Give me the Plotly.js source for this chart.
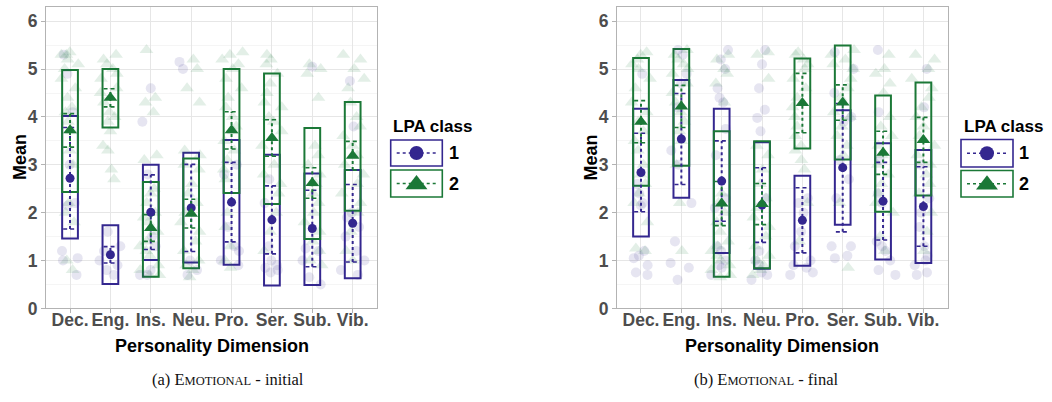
<!DOCTYPE html>
<html><head><meta charset="utf-8">
<script src="https://cdn.plot.ly/plotly-3.0.1.min.js"></script>
<style>html,body{margin:0;padding:0;background:#fff}#chart{width:1052px;height:402px}</style>
</head><body><div id="chart"></div><script>
// ---------- data ----------
const categories = ['Dec.','Eng.','Ins.','Neu.','Pro.','Ser.','Sub.','Vib.'];
const classNames = ['1','2'];
const xTitle = 'Personality Dimension';
const yTitle = 'Mean';
const legendTitle = 'LPA class';
const panelCaptions = ['(a) E<span style="font-size:12.5px">MOTIONAL</span> - initial',
                       '(b) E<span style="font-size:12.5px">MOTIONAL</span> - final'];

// (a) initial  – class 1
const initBoxLow1  = [1.46, 0.51, 1.01, 0.96, 0.91, 0.48, 0.49, 0.63];
const initBoxHigh1 = [4.02, 1.74, 3.00, 3.25, 3.52, 3.21, 2.82, 2.89];
const initMean1    = [2.72, 1.12, 2.01, 2.10, 2.22, 1.85, 1.67, 1.78];
const initErr1     = [1.06, 0.17, 0.78, 0.91, 0.83, 0.71, 0.80, 0.81];
// (a) initial  – class 2
const initBoxLow2  = [2.43, 3.78, 0.66, 0.84, 2.41, 2.18, 1.45, 2.04];
const initBoxHigh2 = [4.98, 5.00, 2.64, 3.13, 5.00, 4.91, 3.77, 4.31];
const initMean2    = [3.72, 4.40, 1.68, 1.98, 3.72, 3.56, 2.62, 3.19];
const initErr2     = [0.35, 0.19, 0.28, 0.30, 0.39, 0.38, 0.32, 0.30];
// (b) final – class 1
const finBoxLow1   = [1.50, 2.31, 1.16, 0.83, 0.89, 1.75, 1.02, 0.95];
const finBoxHigh1  = [4.17, 4.77, 4.17, 3.47, 2.77, 4.14, 3.45, 3.31];
const finMean1     = [2.84, 3.54, 2.66, 2.16, 1.84, 2.94, 2.24, 2.13];
const finErr1      = [0.82, 0.95, 0.84, 0.78, 0.68, 1.34, 0.81, 0.83];
// (b) final – class 2
const finBoxLow2   = [2.56, 2.98, 0.66, 0.84, 3.34, 3.11, 2.02, 2.36];
const finBoxHigh2  = [5.23, 5.42, 3.70, 3.49, 5.22, 5.49, 4.45, 4.72];
const finMean2     = [3.90, 4.22, 2.19, 2.18, 4.29, 4.30, 3.25, 3.52];
const finErr2      = [0.44, 0.44, 0.46, 0.43, 0.62, 0.37, 0.45, 0.47];

// individual observations (one list per category)
const initPoints1 = [
  [5.3, 4.9, 4.1, 3.0, 2.2, 2.15, 1.2, 1.05, 1.0, 0.7],
  [1.6, 1.3, 1.2, 1.0, 0.9, 0.8, 0.7],
  [4.6, 3.9, 2.8, 1.5, 1.3, 0.8, 0.7, 0.7],
  [5.15, 5.0, 1.0, 0.8, 0.7],
  [3.0, 2.8, 1.7, 1.3, 1.2, 1.0, 0.9],
  [2.7, 2.2, 1.3, 1.0, 0.9, 0.85, 0.8, 0.75],
  [5.05, 1.25, 1.2, 1.0, 0.65, 0.5],
  [4.75, 3.8, 2.0, 1.9, 1.7, 1.5, 1.2, 1.0, 0.8, 0.7]
];
const initPoints2 = [
  [5.35, 5.3, 5.3, 5.2, 5.1, 5.0, 4.8, 4.6, 4.4, 4.2, 4.1, 3.9, 3.7, 3.3, 3.0, 2.2, 2.0, 1.8, 1.0, 0.8],
  [5.3, 5.2, 5.1, 5.0, 4.9, 4.8, 4.6, 4.5, 4.3, 4.1, 4.0, 3.9, 3.7, 3.4, 3.3, 2.9, 2.7],
  [5.4, 4.4, 4.3, 4.1, 3.2, 3.1, 2.5, 2.4, 2.2, 2.0, 1.9, 1.8, 1.6, 1.4, 1.3, 1.2, 1.1, 0.9, 0.8, 0.7, 0.7],
  [5.2, 5.0, 4.6, 4.3, 3.3, 3.2, 3.0, 2.9, 2.6, 2.4, 2.2, 2.0, 1.8, 1.6, 1.4, 1.2, 1.0, 0.9, 0.8, 0.65],
  [5.35, 5.3, 5.2, 5.1, 5.0, 4.8, 4.6, 4.4, 4.2, 4.0, 3.8, 3.7, 3.5, 3.3, 3.1, 2.9, 2.7, 2.0, 1.7, 1.3, 1.0, 0.85],
  [5.3, 5.2, 5.1, 4.9, 4.7, 4.5, 4.3, 4.2, 4.0, 3.9, 3.7, 3.4, 3.0, 2.8, 2.6, 2.4, 2.0, 1.6, 1.2],
  [5.1, 5.0, 4.9, 4.4, 3.4, 3.2, 3.0, 2.8, 2.6, 2.4, 2.2, 2.0, 1.8, 1.6, 1.4, 1.2, 1.0, 0.9],
  [5.3, 5.2, 5.0, 4.8, 4.6, 4.3, 4.0, 3.8, 3.6, 3.4, 3.2, 3.0, 2.8, 2.6, 2.4, 2.2, 2.0, 1.6, 1.2, 1.0]
];
const finPoints1 = [
  [4.9, 2.6, 2.4, 2.2, 2.15, 1.2, 1.1, 1.05, 0.9, 0.75, 0.7],
  [5.4, 5.3, 4.9, 4.7, 4.2, 3.3, 3.0, 2.2, 1.4, 0.95, 0.85, 0.6],
  [5.4, 5.2, 5.0, 4.6, 4.4, 4.3, 3.75, 3.2, 2.3, 2.1, 1.3, 1.2, 1.0, 0.9, 0.85, 0.7],
  [5.4, 5.1, 4.6, 4.15, 3.98, 3.7, 2.3, 1.2, 1.0, 0.9, 0.75, 0.7, 0.6],
  [2.3, 2.2, 2.0, 1.6, 1.3, 1.0, 0.9, 0.85, 0.75, 0.7],
  [5.35, 5.0, 4.5, 4.0, 3.9, 3.1, 2.7, 2.3, 1.3, 1.3, 1.1, 1.05],
  [5.4, 4.1, 3.1, 2.4, 2.2, 1.4, 1.3, 1.2, 1.0, 0.8, 0.7],
  [5.0, 4.2, 3.0, 2.3, 2.0, 1.7, 1.3, 1.1, 1.0, 0.9, 0.75, 0.7]
];
const finPoints2 = [
  [5.35, 5.3, 5.2, 5.1, 5.0, 4.8, 4.6, 4.3, 4.1, 3.9, 3.7, 3.5, 3.3, 3.0, 2.8, 2.6, 2.4, 2.2, 1.8, 1.25, 1.2],
  [5.4, 5.3, 5.2, 5.1, 5.0, 4.9, 4.7, 4.5, 4.3, 4.1, 3.9, 3.7, 3.5, 3.0, 2.2, 1.2],
  [5.3, 5.2, 5.0, 4.9, 4.7, 4.3, 2.4, 2.2, 2.0, 1.8, 1.6, 1.4, 1.3, 1.2, 1.1, 1.0, 0.9, 0.8, 0.7, 0.65],
  [5.35, 5.3, 4.8, 3.4, 3.2, 2.9, 2.6, 2.3, 2.1, 1.9, 1.7, 1.5, 1.3, 1.1, 1.0, 0.9, 0.8, 0.7],
  [5.35, 5.3, 5.2, 5.1, 5.0, 4.8, 4.6, 4.4, 4.2, 4.0, 3.8, 3.6, 3.4, 3.3, 3.1, 2.9, 2.2, 1.4],
  [5.4, 5.3, 5.2, 5.1, 5.0, 4.8, 4.6, 4.4, 4.1, 4.0, 3.8, 3.6, 3.4, 3.2, 2.2, 0.85],
  [5.3, 5.0, 4.9, 4.7, 4.5, 4.0, 3.8, 3.6, 3.4, 3.2, 3.0, 2.8, 2.6, 2.4, 2.2, 2.0, 1.5, 1.2],
  [5.3, 5.2, 5.0, 4.8, 4.6, 4.4, 4.2, 4.0, 3.8, 3.6, 3.4, 3.2, 3.0, 2.8, 2.6, 2.4, 2.0, 1.6, 1.2]
];

// ---------- style ----------
const PURPLE = '#34278f';
const GREEN  = '#1b7837';
const colors = [PURPLE, GREEN];
const symbols = ['circle', 'triangle-up'];
const meanSizes = [9, 12];
const pointSizes = [10, 12];
const BOX_W = 0.39, CAP_HW = 0.17;

const panels = [
  {xa:'x',  ya:'y',  cls:[
    {lo:initBoxLow1, hi:initBoxHigh1, mean:initMean1, err:initErr1, pts:initPoints1},
    {lo:initBoxLow2, hi:initBoxHigh2, mean:initMean2, err:initErr2, pts:initPoints2}]},
  {xa:'x2', ya:'y2', cls:[
    {lo:finBoxLow1, hi:finBoxHigh1, mean:finMean1, err:finErr1, pts:finPoints1},
    {lo:finBoxLow2, hi:finBoxHigh2, mean:finMean2, err:finErr2, pts:finPoints2}]}
];
const idx = categories.map((c,i)=>i);

function hexA(hex, a){
  const n = parseInt(hex.slice(1),16);
  return `rgba(${(n>>16)&255},${(n>>8)&255},${n&255},${a})`;
}

const traces = [];
panels.forEach(p=>{
  // jittered raw observations
  p.cls.forEach((c,k)=>{
    const xs=[], ys=[];
    c.pts.forEach((arr,i)=>arr.forEach(v=>{xs.push(i); ys.push(v);}));
    traces.push({type:'box', x:xs, y:ys, xaxis:p.xa, yaxis:p.ya,
      boxpoints:'all', jitter:1, pointpos:0, width:0.62,
      fillcolor:'rgba(0,0,0,0)', line:{color:'rgba(0,0,0,0)', width:0}, whiskerwidth:0,
      marker:{symbol:symbols[k], size:pointSizes[k], color:hexA(colors[k],0.12), line:{width:0}},
      showlegend:false, hoverinfo:'skip'});
  });
  // boxes (crossbars)
  p.cls.forEach((c,k)=>{
    traces.push({type:'bar', x:idx, base:c.lo, y:c.hi.map((h,i)=>h-c.lo[i]),
      width:BOX_W, xaxis:p.xa, yaxis:p.ya,
      marker:{color:'rgba(0,0,0,0)', line:{color:colors[k], width:2}},
      showlegend:false, hoverinfo:'skip'});
  });
  // error bars (dotted stem, dashed caps)
  p.cls.forEach((c,k)=>{
    const sx=[], sy=[], cx=[], cy=[];
    idx.forEach(i=>{
      const lo=c.mean[i]-c.err[i], hi=c.mean[i]+c.err[i];
      sx.push(i,i,null); sy.push(lo,hi,null);
      cx.push(i-CAP_HW,i+CAP_HW,null,i-CAP_HW,i+CAP_HW,null);
      cy.push(lo,lo,null,hi,hi,null);
    });
    traces.push({type:'scatter', mode:'lines', x:sx, y:sy, xaxis:p.xa, yaxis:p.ya,
      line:{color:colors[k], width:2, dash:'3px,3px'}, showlegend:false, hoverinfo:'skip'});
    traces.push({type:'scatter', mode:'lines', x:cx, y:cy, xaxis:p.xa, yaxis:p.ya,
      line:{color:colors[k], width:1.6, dash:'4px,3px'}, showlegend:false, hoverinfo:'skip'});
  });
  // means
  p.cls.forEach((c,k)=>{
    traces.push({type:'scatter', mode:'markers', x:idx, y:c.mean, xaxis:p.xa, yaxis:p.ya,
      marker:{symbol:symbols[k], size:meanSizes[k], color:colors[k], line:{width:0}},
      showlegend:false, hoverinfo:'skip'});
  });
});

// ---------- legends, titles, captions (pixel overlay axes) ----------
const boldFont = (size, color)=>({family:'Liberation Sans, Arial', size, weight:700, color});
const legendBoxes = [
  {x0:390.7, x1:442.3, title:{x:391, y:126}, rows:[[140,166],[170,197]], labelX:447},
  {x0:961,   x1:1013,  title:{x:962, y:126}, rows:[[139.5,167],[170.5,197]], labelX:1017}
];
const shapes = [], annotations = [];
legendBoxes.forEach(L=>{
  annotations.push({xref:'x3', yref:'y3', x:L.title.x, y:L.title.y, xanchor:'left', yanchor:'middle',
    text:legendTitle, showarrow:false, font:boldFont(17,'#000')});
  L.rows.forEach((r,k)=>{
    const ym=(r[0]+r[1])/2, xm=(L.x0+L.x1)/2;
    shapes.push({type:'rect', xref:'x3', yref:'y3', x0:L.x0, x1:L.x1, y0:r[0], y1:r[1],
      line:{color:colors[k], width:1.6}, fillcolor:'rgba(0,0,0,0)'});
    shapes.push({type:'line', xref:'x3', yref:'y3', x0:L.x0+6, x1:L.x1-6, y0:ym, y1:ym,
      line:{color:colors[k], width:1.3, dash:'3px,3px'}});
    traces.push({type:'scatter', mode:'markers', x:[xm], y:[ym+(k===1?1:0)], xaxis:'x3', yaxis:'y3',
      marker:{symbol:symbols[k], size:k===0?14:19, color:colors[k], line:{width:0}},
      showlegend:false, hoverinfo:'skip', cliponaxis:false});
    annotations.push({xref:'x3', yref:'y3', x:L.labelX, y:ym, xanchor:'left', yanchor:'middle',
      text:classNames[k], showarrow:false, font:boldFont(18,'#000')});
  });
});
// axis titles
[[211.7,346],[782,346]].forEach(pos=>{
  annotations.push({xref:'x3', yref:'y3', x:pos[0], y:pos[1], xanchor:'center', yanchor:'middle',
    text:xTitle, showarrow:false, font:boldFont(18,'#000')});
});
[[19.5,157.5],[590,157.5]].forEach(pos=>{
  annotations.push({xref:'x3', yref:'y3', x:pos[0], y:pos[1], xanchor:'center', yanchor:'middle',
    text:yTitle, textangle:-90, showarrow:false, font:boldFont(18,'#000')});
});
// captions
[[228,379],[766,379]].forEach((pos,i)=>{
  annotations.push({xref:'x3', yref:'y3', x:pos[0], y:pos[1], xanchor:'center', yanchor:'middle',
    text:panelCaptions[i], showarrow:false, font:{family:'Liberation Serif, Times New Roman, serif', size:16.5, color:'#111'}});
});

// ---------- axes ----------
const tickFont = boldFont(17.5,'#4d4d4d');
const yDomain = [0.2328, 0.9818];
function xAxis(domain, anchor){
  return {domain, anchor, range:[-0.6,7.6], tickmode:'array', tickvals:idx, ticktext:categories,
    tickangle:0, showgrid:true, gridcolor:'#e6e6e6', gridwidth:1, zeroline:false,
    showline:true, mirror:true, linecolor:'#b3b3b3', linewidth:1,
    ticks:'outside', ticklen:3.7, tickwidth:1, tickcolor:'#b3b3b3', tickfont:tickFont,
    ticklabelstandoff:-8, fixedrange:true};
}
function yAxis(anchor){
  return {domain:yDomain, anchor, range:[0,6.29], tickmode:'linear', tick0:0, dtick:1,
    showgrid:true, gridcolor:'#e6e6e6', gridwidth:1, zeroline:false,
    minor:{dtick:0.5, showgrid:true, gridcolor:'#f2f2f2', gridwidth:0.8},
    showline:true, mirror:true, linecolor:'#b3b3b3', linewidth:1,
    ticks:'outside', ticklen:3.7, tickwidth:1, tickcolor:'#b3b3b3', tickfont:tickFont,
    fixedrange:true};
}

const layout = {
  width:1052, height:402, margin:{l:0,r:0,t:0,b:0},
  paper_bgcolor:'#fff', plot_bgcolor:'rgba(0,0,0,0)', showlegend:false,
  barmode:'overlay', boxmode:'overlay',
  xaxis: xAxis([0.04354, 0.35827], 'y'),
  yaxis: yAxis('x'),
  xaxis2: xAxis([0.58631, 0.90076], 'y2'),
  yaxis2: yAxis('x2'),
  xaxis3: {domain:[0,1], anchor:'y3', range:[0,1052], visible:false, fixedrange:true, showgrid:false},
  yaxis3: {domain:[0,1], anchor:'x3', range:[402,0], visible:false, fixedrange:true, showgrid:false},
  shapes, annotations
};

Plotly.newPlot('chart', traces, layout, {staticPlot:true, displayModeBar:false});
</script></body></html>
